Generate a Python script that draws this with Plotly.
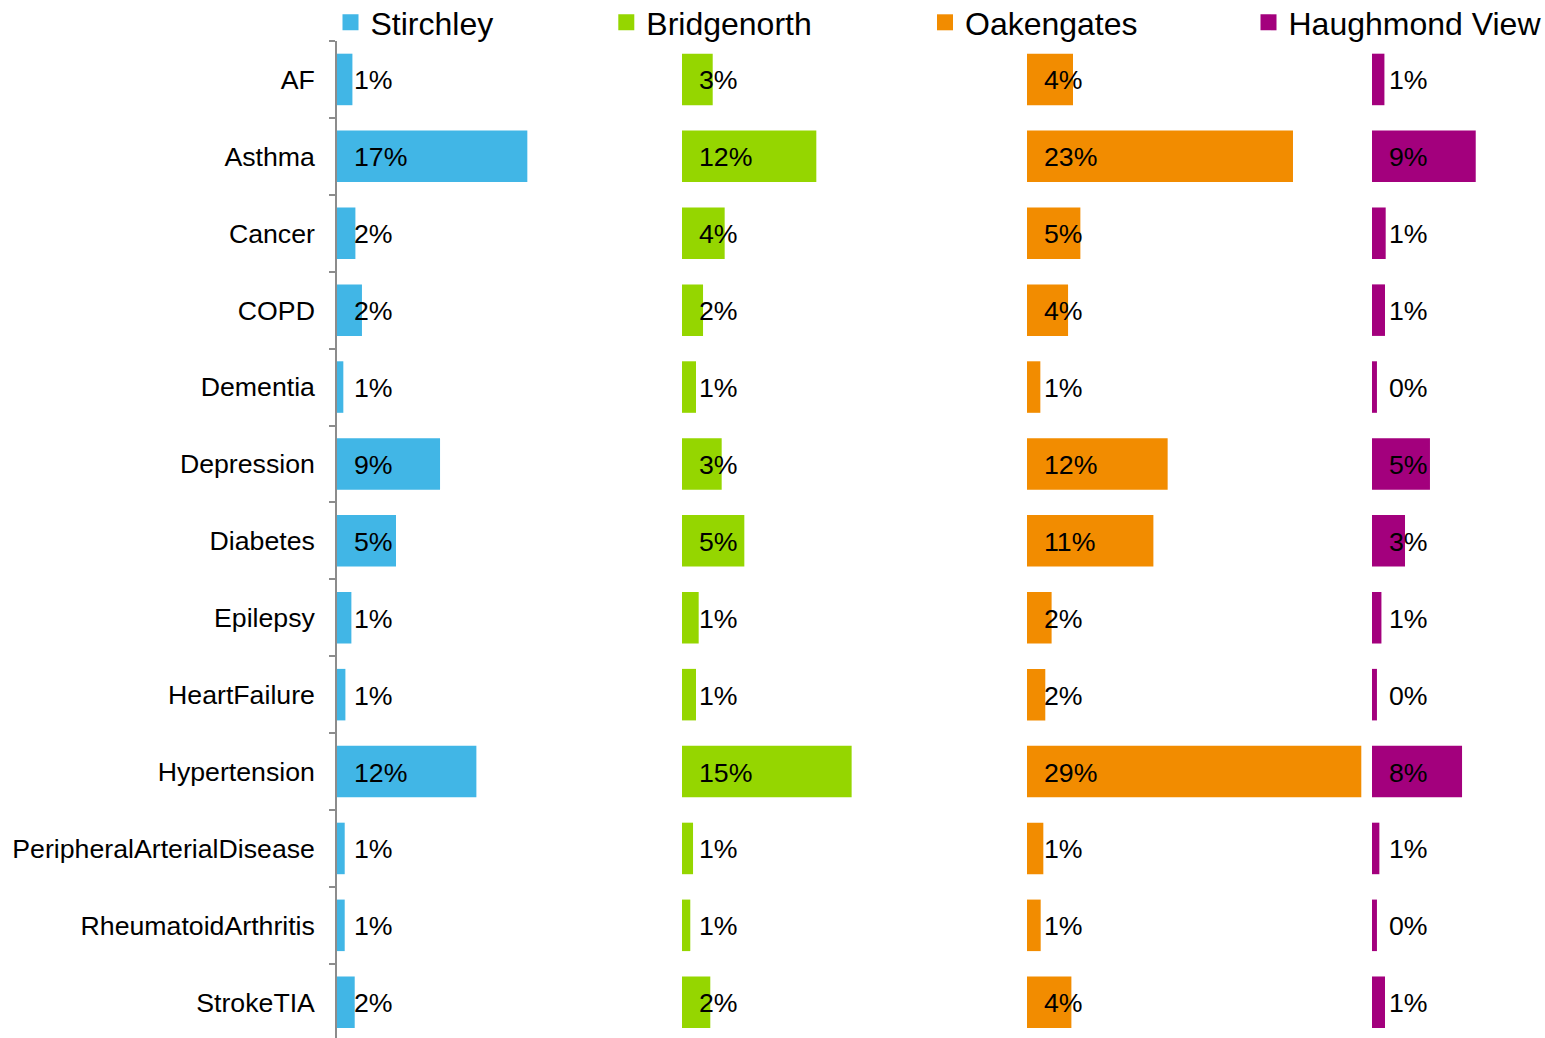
import plotly.graph_objects as go

categories = ["AF", "Asthma", "Cancer", "COPD", "Dementia", "Depression", "Diabetes",
              "Epilepsy", "HeartFailure", "Hypertension", "PeripheralArterialDisease",
              "RheumatoidArthritis", "StrokeTIA"]

stirchley = [1.34, 16.55, 1.60, 2.17, 0.55, 8.96, 5.13, 1.25, 0.73, 12.12, 0.67, 0.67, 1.54]
bridgenorth = [2.67, 11.68, 3.71, 1.83, 1.22, 3.45, 5.42, 1.45, 1.22, 14.75, 0.96, 0.72, 2.46]
oakengates = [4.00, 23.13, 4.64, 3.57, 1.16, 12.23, 10.99, 2.14, 1.59, 29.07, 1.42, 1.19, 3.86]
haughmond_view = [1.08, 9.02, 1.19, 1.13, 0.43, 5.04, 2.87, 0.82, 0.43, 7.83, 0.64, 0.43, 1.13]

series_names = ["Stirchley", "Bridgenorth", "Oakengates", "Haughmond View"]
series_values = [stirchley, bridgenorth, oakengates, haughmond_view]
colors = ["#41B6E6", "#95D600", "#F28C00", "#A3007D"]

PANEL = 30          # width of each series' panel, in percent units
LABEL_PAD = 1.3     # data label offset from the panel start, percent units
FONT = "Arial, Liberation Sans, sans-serif"
FS = 26.7

VIEW_W, VIEW_H = 1545, 1038
EXTRA_W = 20        # figure is a little wider than the view so the last legend fits
SHIFT = 10          # figure is a little taller and shifted up so the legends sit high
FIG_W, FIG_H = VIEW_W + EXTRA_W, VIEW_H + SHIFT
M_L, M_T = 337, 41 + SHIFT
PLOT_W = VIEW_W - M_L
PLOT_H = FIG_H - M_T
LEGEND_TOP = 5      # legend box top, in figure pixels

legend_x = [-0.00538, 0.22293, 0.48675, 0.75456]
legend_keys = ["legend", "legend2", "legend3", "legend4"]

fig = go.Figure()
for i, (name, vals, col) in enumerate(zip(series_names, series_values, colors)):
    base = i * PANEL
    fig.add_trace(go.Bar(
        y=categories, x=vals, base=[base] * len(vals), orientation="h",
        marker=dict(color=col, line=dict(width=0)), showlegend=False,
        hoverinfo="skip"))
    for cat, v in zip(categories, vals):
        fig.add_annotation(
            x=base + LABEL_PAD, y=cat, xref="x", yref="y",
            text=f"{v:.0f}%", showarrow=False, xanchor="left", yanchor="middle",
            yshift=-1, font=dict(family=FONT, size=FS, color="#000000"))
    fig.add_trace(go.Scatter(
        x=[None], y=[None], mode="markers", name=name,
        marker=dict(symbol="square", size=16, color=col),
        showlegend=True, legend=legend_keys[i]))

layout_legends = {}
for key, lx in zip(legend_keys, legend_x):
    layout_legends[key] = dict(
        x=lx, xanchor="left", y=1 + (M_T - LEGEND_TOP) / PLOT_H, yanchor="top",
        orientation="h",
        font=dict(family=FONT, size=32, color="#000000"),
        bgcolor="rgba(0,0,0,0)", itemsizing="trace")

fig.update_layout(
    width=FIG_W, height=FIG_H,
    margin=dict(l=M_L, r=EXTRA_W, t=M_T, b=0, pad=0),
    paper_bgcolor="white", plot_bgcolor="white",
    barmode="overlay", bargap=0.33,
    font=dict(family=FONT, size=FS, color="#000000"),
    **layout_legends,
)
fig.update_xaxes(range=[0, PLOT_W / 11.5], visible=False, fixedrange=True, automargin=False)
fig.update_yaxes(
    type="category", categoryorder="array", categoryarray=categories,
    range=[12.465, -0.5], showgrid=False, zeroline=False, automargin=False,
    showline=True, linecolor="#8C8C8C", linewidth=1.5,
    ticks="outside", tickson="boundaries", ticklen=6, tickcolor="#8C8C8C", tickwidth=1.5,
    ticklabelstandoff=15, tickfont=dict(family=FONT, size=FS, color="#000000"),
    fixedrange=True)

post = (
    "document.body.style.margin='0';document.body.style.overflow='hidden';"
    "var gd=document.getElementById('{plot_id}');var p=gd.parentElement;"
    "p.style.width='%dpx';p.style.height='%dpx';p.style.overflow='hidden';"
    "gd.style.marginTop='-%dpx';" % (VIEW_W, VIEW_H, SHIFT)
)
fig.write_html("out.html", config={"displayModeBar": False}, post_script=post)
